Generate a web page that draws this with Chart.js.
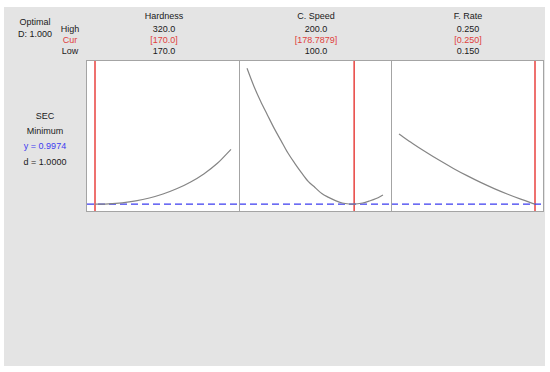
<!DOCTYPE html>
<html lang="en">
<head>
    <meta charset="UTF-8">
    <title>Response Optimizer - SEC</title>
    <script src="https://cdn.jsdelivr.net/npm/chart.js"></script>
    <style>
        body {
            margin: 0;
            background: #ffffff;
            font-family: 'Liberation Sans', Arial, sans-serif;
            font-size: 9px;
            color: #1a1a1a;
        }
        .frame {
            position: absolute;
            left: 4px;
            top: 7px;
            width: 541px;
            height: 359px;
            background: #e4e4e4;
        }
        .lbl {
            position: absolute;
            transform: translate(-50%, -50%);
            white-space: nowrap;
            line-height: 11px;
        }
        .red { color: #e0403c; }
        .blue { color: #3c3cf0; }
        canvas {
            position: absolute;
            top: 60px;
            background: #fff;
        }
        .edge {
            position: absolute;
            background: #a4a4a4;
        }
    </style>
</head>
<body>
<div class="frame"></div>
<div id="texts"></div>
<div id="plots"></div>

<script>
    // factors and settings
    const factors = ['Hardness', 'C. Speed', 'F. Rate'];
    const highLabels = ['320.0', '200.0', '0.250'];
    const curLabels = ['[170.0]', '[178.7879]', '[0.250]'];
    const lowLabels = ['170.0', '100.0', '0.150'];
    const lows = [170, 100, 0.150];
    const highs = [320, 200, 0.250];
    const curs = [170, 178.7879, 0.250];

    // predicted SEC along each factor (others held at current setting)
    const hardnessX = [170, 185, 200, 215, 230, 245, 260, 275, 290, 305, 320];
    const hardnessY = [0.9974, 1.004, 1.024, 1.062, 1.12, 1.20, 1.304, 1.436, 1.602, 1.814, 2.094];
    const speedX = [100, 105, 110, 115, 120, 125, 130, 135, 140, 145, 150, 155, 160, 165, 170, 175, 178.7879, 185, 190, 195, 200];
    const speedY = [3.714, 3.362, 3.056, 2.782, 2.512, 2.268, 2.024, 1.818, 1.628, 1.452, 1.33, 1.208, 1.132, 1.068, 1.02, 1.0, 0.9974, 1.02, 1.06, 1.11, 1.18];
    const rateX = [0.15, 0.16, 0.17, 0.18, 0.19, 0.20, 0.21, 0.22, 0.23, 0.24, 0.25];
    const rateY = [2.40, 2.212, 2.035, 1.868, 1.712, 1.567, 1.432, 1.308, 1.195, 1.092, 0.9974];

    const yCur = 0.9974;
    const yMin = 0.84, yMax = 3.88;

    const curvesX = [hardnessX, speedX, rateX];
    const curvesY = [hardnessY, speedY, rateY];

    const texts = document.getElementById('texts');
    const plots = document.getElementById('plots');

    function addText(str, x, y, cls) {
        const d = document.createElement('div');
        d.className = 'lbl' + (cls ? ' ' + cls : '');
        d.style.left = x + 'px';
        d.style.top = y + 'px';
        d.textContent = str;
        texts.appendChild(d);
    }

    function addEdge(x, y, w, h) {
        const d = document.createElement('div');
        d.className = 'edge';
        d.style.left = x + 'px';
        d.style.top = y + 'px';
        d.style.width = w + 'px';
        d.style.height = h + 'px';
        plots.appendChild(d);
    }

    // left side labels
    addText('Optimal', 35, 22);
    addText('D: 1.000', 35, 34);
    addText('High', 70, 29);
    addText('Cur', 70, 40, 'red');
    addText('Low', 70, 51);
    addText('SEC', 45, 116);
    addText('Minimum', 45, 131);
    addText('y = 0.9974', 45, 146, 'blue');
    addText('d = 1.0000', 45, 162);

    const panelLeft = [87, 239, 391];
    const panelW = 152;
    const inset = 8;

    factors.forEach((name, i) => {
        const cx = panelLeft[i] + panelW / 2 + 1;
        addText(name, cx, 16);
        addText(highLabels[i], cx, 29);
        addText(curLabels[i], cx, 40, 'red');
        addText(lowLabels[i], cx, 51);

        const canvas = document.createElement('canvas');
        canvas.width = panelW;
        canvas.height = 152;
        canvas.style.left = panelLeft[i] + 'px';
        plots.appendChild(canvas);

        const range = highs[i] - lows[i];
        const pad = range * inset / (panelW - 2 * inset);
        const xMin = lows[i] - pad;
        const xMax = highs[i] + pad;

        const pts = curvesX[i].map((x, k) => ({ x: x, y: curvesY[i][k] }));

        new Chart(canvas.getContext('2d'), {
            type: 'scatter',
            data: {
                datasets: [
                    {
                        data: pts,
                        showLine: true,
                        borderColor: '#858585',
                        borderWidth: 1.2,
                        pointRadius: 0,
                        cubicInterpolationMode: 'monotone'
                    },
                    {
                        data: [{ x: xMin, y: yCur }, { x: xMax, y: yCur }],
                        showLine: true,
                        borderColor: '#3c3cf0',
                        borderWidth: 1.2,
                        borderDash: [7, 4],
                        pointRadius: 0
                    },
                    {
                        data: [{ x: curs[i], y: yMin }, { x: curs[i], y: yMax }],
                        showLine: true,
                        borderColor: '#e8423f',
                        borderWidth: 1.5,
                        pointRadius: 0
                    }
                ]
            },
            options: {
                responsive: false,
                animation: false,
                layout: { padding: 0 },
                plugins: { legend: { display: false }, tooltip: { enabled: false } },
                scales: {
                    x: { type: 'linear', min: xMin, max: xMax, display: false },
                    y: { min: yMin, max: yMax, display: false }
                }
            }
        });
    });

    // panel borders
    addEdge(86, 60, 458, 1);
    addEdge(86, 211, 458, 1);
    addEdge(86, 60, 1, 152);
    addEdge(543, 60, 1, 152);
    addEdge(239, 60, 1, 152);
    addEdge(391, 60, 1, 152);
</script>
</body>
</html>
